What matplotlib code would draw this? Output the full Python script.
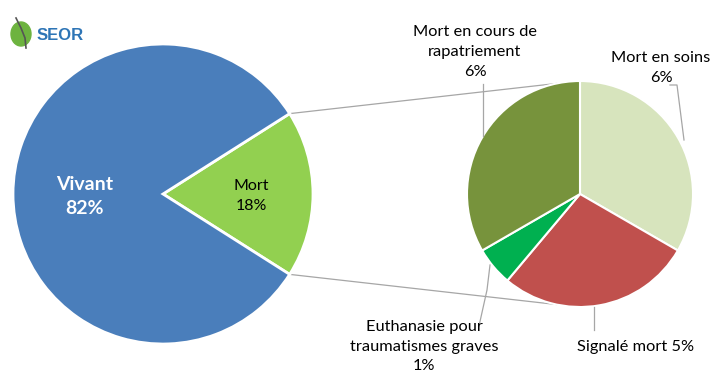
import numpy as np
import matplotlib.pyplot as plt
from matplotlib.patches import Ellipse

# left pie
main_labels = ["Mort", "Vivant"]
main_values = [18, 82]
main_colors = ["#92D050", "#4A7EBB"]

# detail of "Mort"
detail_labels = ["Mort en soins", "Signalé mort", "Euthanasie pour\ntraumatismes graves", "Mort en cours de\nrapatriement"]
detail_values = [6, 5, 1, 6]
detail_colors = ["#D7E4BD", "#C0504D", "#00B050", "#77933C"]

W, H = 710, 379
plt.rcParams['font.family'] = ['Lato', 'DejaVu Sans']

fig = plt.figure(figsize=(W / 100, H / 100), dpi=100)
ax = fig.add_axes([0, 0, 1, 1])

def py(y):
    # pixel row -> data y
    return H - y

c1, r1 = (163, py(194)), 150
c2, r2 = (580, py(194)), 113

span = main_values[0] / sum(main_values) * 360
w1, _ = ax.pie(main_values, colors=main_colors, startangle=-span / 2, counterclock=True,
               center=c1, radius=r1, wedgeprops=dict(edgecolor="white", linewidth=2))
w2, _ = ax.pie(detail_values, colors=detail_colors, startangle=90, counterclock=False,
               center=c2, radius=r2, wedgeprops=dict(edgecolor="white", linewidth=1.5))

# connector lines from the "Mort" wedge to the detail pie
t1, t2 = np.deg2rad(w1[0].theta1), np.deg2rad(w1[0].theta2)
for ta, tb in [(t2, np.deg2rad(102)), (t1, np.deg2rad(-102))]:
    x0, y0 = c1[0] + r1 * np.cos(ta), c1[1] + r1 * np.sin(ta)
    x1, y1 = c2[0] + r2 * np.cos(tb), c2[1] + r2 * np.sin(tb)
    ax.plot([x0, x1], [y0, y1], color="#A6A6A6", lw=0.9, zorder=0)

# labels on left pie
ax.text(85, py(197), f"{main_labels[1]}\n{main_values[1]}%", ha="center", va="center",
        color="white", fontsize=14, fontweight="bold", linespacing=1.5)
ax.text(251, py(196), f"{main_labels[0]}\n{main_values[0]}%", ha="center", va="center",
        color="black", fontsize=11.5, linespacing=1.55)

# labels on detail pie
fs = 11.8
ls = 1.5
lc = "#A6A6A6"
ax.text(475, py(52), f"{detail_labels[3]}\n{detail_values[3]}%", ha="center", va="center",
        fontsize=fs, linespacing=ls)
ax.plot([483, 483], [py(84), py(136)], color=lc, lw=0.9)

ax.text(661, py(68), f"{detail_labels[0]}\n{detail_values[0]}%", ha="center", va="center",
        fontsize=fs, linespacing=ls)
ax.plot([670, 677, 684], [py(85), py(85), py(140)], color=lc, lw=0.9)

ax.text(424, py(347), f"{detail_labels[2]}\n{detail_values[2]}%", ha="center", va="center",
        fontsize=fs, linespacing=ls)
ax.plot([479, 487, 490], [py(326), py(290), py(265)], color=lc, lw=0.9)

ax.text(636, py(347), f"{detail_labels[1]} {detail_values[1]}%", ha="center", va="center",
        fontsize=fs)
ax.plot([594, 594], [py(307), py(330)], color=lc, lw=0.9)

# logo
ax.add_patch(Ellipse((21, py(34)), 20, 24, color="#6DB33F", zorder=3))
ax.plot([16, 21, 25, 26], [py(18), py(28), py(38), py(48)], color="#555555", lw=1.2, zorder=4)
ax.text(37, py(36), "SEOR", ha="left", va="center", color="#2E75B6", fontsize=12,
        fontweight="bold", family=["Liberation Sans", "DejaVu Sans"], zorder=4)

ax.set_xlim(0, W)
ax.set_ylim(0, H)
ax.set_aspect("equal")
ax.axis("off")

fig.savefig("out.png", dpi=100)
